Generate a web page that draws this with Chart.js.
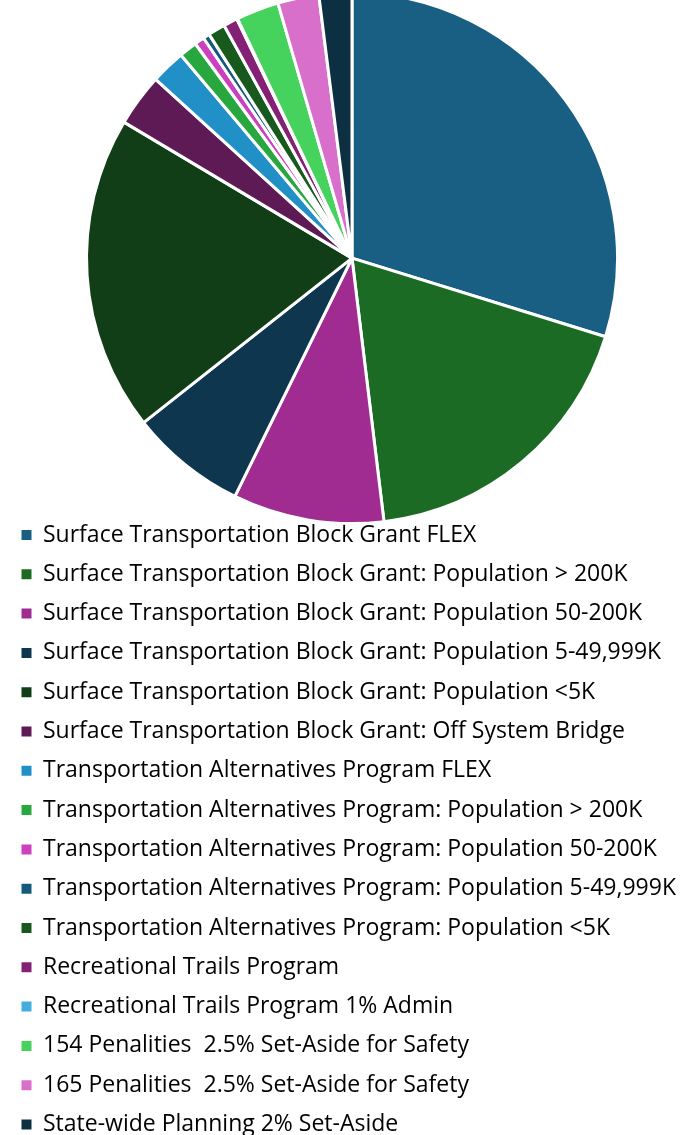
<!DOCTYPE html>
<html>
<head>
<meta charset="utf-8">
<script src="https://cdn.jsdelivr.net/npm/chart.js@4/dist/chart.umd.min.js"></script>
<style>
  html, body { margin: 0; padding: 0; background: #ffffff; overflow: hidden; width: 696px; height: 1135px; }
  #wrap { position: absolute; left: 0; top: 0; width: 700px; height: 1146px; }
</style>
</head>
<body>
<div id="wrap"><canvas id="c" width="700" height="1146"></canvas></div>
<script>
const categories = [
  "Surface Transportation Block Grant FLEX",
  "Surface Transportation Block Grant: Population > 200K",
  "Surface Transportation Block Grant: Population 50-200K",
  "Surface Transportation Block Grant: Population 5-49,999K",
  "Surface Transportation Block Grant: Population <5K",
  "Surface Transportation Block Grant: Off System Bridge",
  "Transportation Alternatives Program FLEX",
  "Transportation Alternatives Program: Population > 200K",
  "Transportation Alternatives Program: Population 50-200K",
  "Transportation Alternatives Program: Population 5-49,999K",
  "Transportation Alternatives Program: Population <5K",
  "Recreational Trails Program",
  "Recreational Trails Program 1% Admin",
  "154 Penalities  2.5% Set-Aside for Safety",
  "165 Penalities  2.5% Set-Aside for Safety",
  "State-wide Planning 2% Set-Aside"
];
// share of total (percent)
const shares = [29.8, 18.3, 9.2, 7.1, 19.2, 3.2, 2.1, 1.1, 0.6, 0.4, 1.05, 0.85, 0.05, 2.6, 2.5, 2.0];
const colors = [
  "#185F83", "#1B6B24", "#A02C91", "#0E374F", "#113E16", "#5E1A55",
  "#2190C6", "#28A73E", "#CC3FBF", "#145A7A", "#185A1E", "#842175",
  "#44ADE0", "#46D35D", "#D86FCA", "#0C2F42"
];

new Chart(document.getElementById('c'), {
  type: 'pie',
  data: {
    labels: categories,
    datasets: [{
      data: shares,
      backgroundColor: colors,
      borderColor: '#ffffff',
      borderWidth: 3,
      radius: 265.5,
      clip: false
    }]
  },
  options: {
    responsive: false,
    animation: false,
    layout: { padding: { top: 9, left: 5.2, right: 1.2, bottom: 0 } },
    plugins: {
      tooltip: { enabled: false },
      title: { display: false },
      legend: {
        position: 'bottom',
        align: 'start',
        maxHeight: 800,
        labels: {
          boxWidth: 10,
          boxHeight: 10,
          padding: 16.3,
          color: '#000000',
          font: { family: "'Open Sans'", size: 23 },
          generateLabels: function(chart) {
            const items = Chart.overrides.pie.plugins.legend.labels.generateLabels(chart);
            return items.map(function(it) { it.lineWidth = 0; it.strokeStyle = it.fillStyle; return it; });
          }
        }
      }
    }
  }
});
</script>
</body>
</html>
